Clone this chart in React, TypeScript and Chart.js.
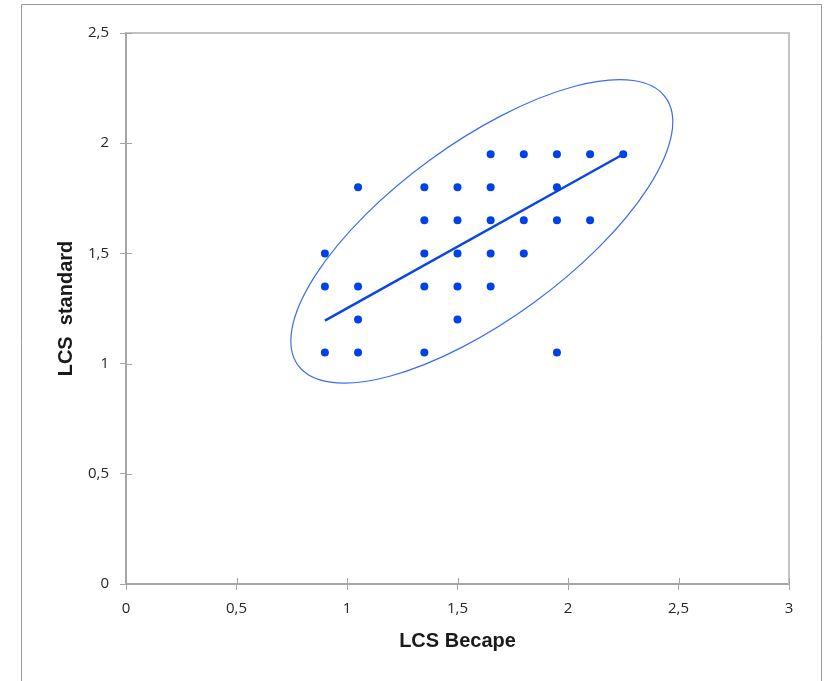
import React, { useEffect, useRef } from 'react';
import { Chart, registerables } from 'chart.js';

Chart.register(...registerables);

// Observations (LCS Becape, LCS standard)
const pointsX = [
  1.65, 1.8, 1.95, 2.1, 2.25,
  1.05, 1.35, 1.5, 1.65, 1.95,
  1.35, 1.5, 1.65, 1.8, 1.95, 2.1,
  0.9, 1.35, 1.5, 1.65, 1.8,
  0.9, 1.05, 1.35, 1.5, 1.65,
  1.05, 1.5,
  0.9, 1.05, 1.35, 1.95,
];
const pointsY = [
  1.95, 1.95, 1.95, 1.95, 1.95,
  1.8, 1.8, 1.8, 1.8, 1.8,
  1.65, 1.65, 1.65, 1.65, 1.65, 1.65,
  1.5, 1.5, 1.5, 1.5, 1.5,
  1.35, 1.35, 1.35, 1.35, 1.35,
  1.2, 1.2,
  1.05, 1.05, 1.05, 1.05,
];

// Regression line end points
const lineX = [0.9, 2.25];
const lineY = [1.195, 1.95];

// Confidence ellipse (data units)
const ellipseCenter = [1.61, 1.6];
const ellipseSemiMajor = 1.03;
const ellipseSemiMinor = 0.4;
const ellipseAngleDeg = 36.2;

const xTitle = 'LCS Becape';
const yTitle = 'LCS  standard';

const fmt = (v: number) => String(Math.round(v * 10) / 10).replace('.', ',');

const framePlugin = {
  id: 'framePlugin',
  beforeDraw(chart: any) {
    const ctx = chart.ctx;
    ctx.save();
    ctx.fillStyle = '#ffffff';
    ctx.fillRect(0, 0, chart.width, chart.height);
    ctx.strokeStyle = '#9a9a9a';
    ctx.lineWidth = 1;
    ctx.beginPath();
    ctx.moveTo(21.5, chart.height + 5);
    ctx.lineTo(21.5, 4.5);
    ctx.lineTo(821.5, 4.5);
    ctx.lineTo(821.5, chart.height + 5);
    ctx.stroke();
    ctx.restore();
  },
  beforeDatasetsDraw(chart: any) {
    const ctx = chart.ctx;
    const a = chart.chartArea;
    ctx.save();
    ctx.strokeStyle = '#c4c4c4';
    ctx.lineWidth = 2;
    ctx.beginPath();
    ctx.moveTo(a.left, a.top);
    ctx.lineTo(a.right, a.top);
    ctx.lineTo(a.right, a.bottom);
    ctx.stroke();
    // inner halves of the cross tick marks
    ctx.strokeStyle = '#a6a6a6';
    ctx.lineWidth = 1;
    const xs = chart.scales.x;
    const ys = chart.scales.y;
    ctx.beginPath();
    xs.ticks.forEach((t: any) => {
      const px = Math.round(xs.getPixelForValue(t.value)) + 0.5;
      ctx.moveTo(px, a.bottom);
      ctx.lineTo(px, a.bottom - 6);
    });
    ys.ticks.forEach((t: any) => {
      const py = Math.round(ys.getPixelForValue(t.value)) + 0.5;
      ctx.moveTo(a.left, py);
      ctx.lineTo(a.left + 6, py);
    });
    ctx.stroke();
    ctx.restore();
  },
  afterDatasetsDraw(chart: any) {
    const ctx = chart.ctx;
    const xs = chart.scales.x;
    const ys = chart.scales.y;
    const cx = xs.getPixelForValue(ellipseCenter[0]);
    const cy = ys.getPixelForValue(ellipseCenter[1]);
    const sx = xs.getPixelForValue(1) - xs.getPixelForValue(0);
    const sy = ys.getPixelForValue(0) - ys.getPixelForValue(1);
    ctx.save();
    ctx.translate(cx, cy);
    ctx.scale(sx, -sy);
    ctx.rotate((ellipseAngleDeg * Math.PI) / 180);
    ctx.beginPath();
    ctx.ellipse(0, 0, ellipseSemiMajor, ellipseSemiMinor, 0, 0, Math.PI * 2);
    ctx.restore();
    ctx.save();
    ctx.strokeStyle = '#3d6cf0';
    ctx.lineWidth = 1.2;
    ctx.stroke();
    ctx.restore();
  },
};

export default function App() {
  const ref = useRef<HTMLCanvasElement | null>(null);
  useEffect(() => {
    if (!ref.current) return;
    const tickFont = { family: '"Open Sans", "Noto Sans", sans-serif', size: 15 };
    const titleFont = { family: '"Liberation Sans", Arial, sans-serif', size: 20, weight: 'bold' as const };
    const chart = new Chart(ref.current, {
      type: 'scatter',
      data: {
        datasets: [
          {
            label: 'points',
            data: pointsX.map((x, i) => ({ x, y: pointsY[i] })),
            backgroundColor: '#0042e6',
            borderWidth: 0,
            pointRadius: 4,
          },
          {
            label: 'regression',
            data: lineX.map((x, i) => ({ x, y: lineY[i] })),
            showLine: true,
            borderColor: '#0a46e6',
            borderWidth: 2.5,
            pointRadius: 0,
          },
        ],
      },
      options: {
        animation: false,
        responsive: false,
        devicePixelRatio: 1,
        layout: { padding: { top: 33, right: 39, left: 0, bottom: 0 } },
        plugins: { legend: { display: false }, tooltip: { enabled: false } },
        scales: {
          x: {
            type: 'linear',
            min: 0,
            max: 3,
            ticks: { stepSize: 0.5, callback: (v: any) => fmt(Number(v)), font: tickFont, color: '#262626', padding: 10, maxRotation: 0 },
            grid: { drawOnChartArea: false, drawTicks: true, tickLength: 6, tickColor: '#a6a6a6', tickWidth: 1 },
            border: { color: '#a6a6a6', width: 2 },
            title: { display: true, text: xTitle, font: titleFont, color: '#1a1a1a', padding: { top: 0, bottom: 28 } },
            afterFit: (s: any) => { s.height = 97; },
          },
          y: {
            type: 'linear',
            min: 0,
            max: 2.5,
            ticks: { stepSize: 0.5, callback: (v: any) => fmt(Number(v)), font: tickFont, color: '#262626', padding: 11 },
            grid: { drawOnChartArea: false, drawTicks: true, tickLength: 6, tickColor: '#a6a6a6', tickWidth: 1 },
            border: { color: '#a6a6a6', width: 2 },
            title: { display: true, text: yTitle, font: titleFont, color: '#1a1a1a', padding: { top: 54, bottom: 0 } },
            afterFit: (s: any) => { s.width = 126; },
          },
        },
      },
      plugins: [framePlugin],
    } as any);
    return () => chart.destroy();
  }, []);
  return (
    <div style={{ position: 'absolute', left: 0, top: 0, width: 828, height: 681, background: '#fff' }}>
      <canvas ref={ref} width={828} height={681} style={{ display: 'block' }} />
    </div>
  );
}
